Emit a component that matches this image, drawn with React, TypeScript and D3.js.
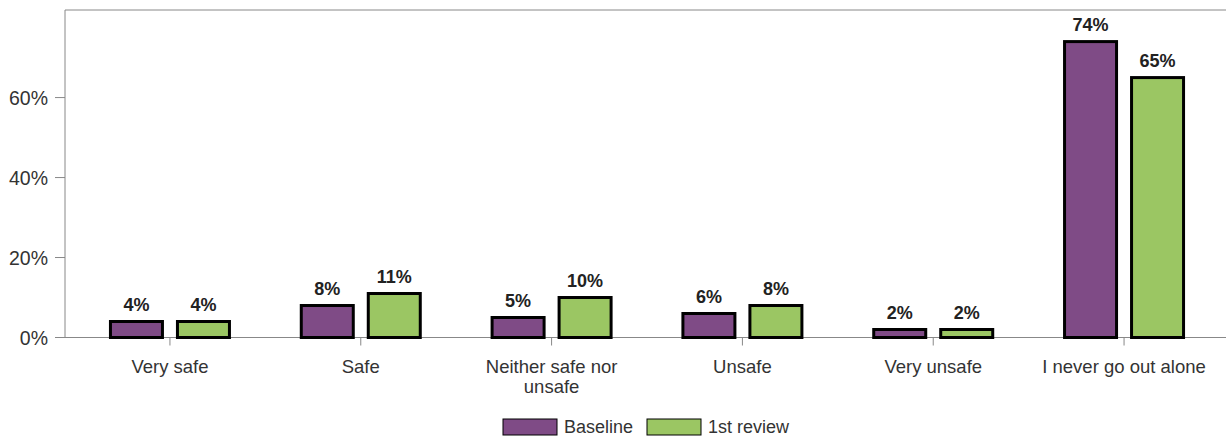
import React from "react";
import * as d3 from "d3";

const categories = ["Very safe", "Safe", "Neither safe nor unsafe", "Unsafe", "Very unsafe", "I never go out alone"];
const categoryLines = [["Very safe"], ["Safe"], ["Neither safe nor", "unsafe"], ["Unsafe"], ["Very unsafe"], ["I never go out alone"]];
const seriesNames = ["Baseline", "1st review"];
const baseline = [4, 8, 5, 6, 2, 74];
const review1 = [4, 11, 10, 8, 2, 65];
const yTicks = [0, 20, 40, 60];
const colors = ["#7f4b86", "#9bc663"];

export default function App() {
  const W = 1226, H = 437;
  const left = 65, top = 10, right = 1229, bottom = 337.5;
  const x = d3.scaleBand().domain(categories).range([left, right]).paddingOuter(0.05).paddingInner(0);
  const y = d3.scaleLinear().domain([0, 81.9]).range([bottom, top]);
  const barW = 52, gap = 15;
  const font = "'Liberation Sans', Arial, sans-serif";
  const series = [baseline, review1];
  return (
    <svg width={W} height={H} style={{ position: "absolute", left: 0, top: 0 }}>
      <rect x={0} y={0} width={W} height={H} fill="#fff" />
      <line x1={left} y1={top} x2={right} y2={top} stroke="#888" strokeWidth={1} />
      <line x1={left} y1={top} x2={left} y2={bottom} stroke="#888" strokeWidth={1} />
      <line x1={right} y1={top} x2={right} y2={bottom} stroke="#888" strokeWidth={1} />
      <line x1={left} y1={bottom} x2={right} y2={bottom} stroke="#888" strokeWidth={1} />
      {yTicks.map((t) => (
        <g key={t}>
          <line x1={left - 10} x2={left} y1={y(t)} y2={y(t)} stroke="#888" />
          <text x={48} y={y(t)} dy="0.36em" textAnchor="end" fontSize={19.5} fill="#333" fontFamily={font}>{t}%</text>
        </g>
      ))}
      {categories.map((c, i) => {
        const cx = x(c)! + x.bandwidth() / 2;
        return (
          <g key={c}>
            <line x1={cx} x2={cx} y1={bottom} y2={bottom + 8} stroke="#888" />
            {categoryLines[i].map((ln, j) => (
              <text key={j} x={cx} y={373 + j * 20} textAnchor="middle" fontSize={18.5} fill="#333" fontFamily={font}>{ln}</text>
            ))}
            {series.map((s, k) => {
              const bx = k === 0 ? cx - gap / 2 - barW : cx + gap / 2;
              const v = s[i];
              return (
                <g key={k}>
                  <rect x={bx} y={y(v)} width={barW} height={bottom - y(v)} fill={colors[k]} stroke="#000" strokeWidth={3} />
                  <text x={bx + barW / 2} y={y(v) - 11} textAnchor="middle" fontSize={18} fontWeight="bold" fill="#222" fontFamily={font}>{v}%</text>
                </g>
              );
            })}
          </g>
        );
      })}
      {seriesNames.map((n, k) => {
        const lx = k === 0 ? 503 : 647;
        return (
          <g key={n}>
            <rect x={lx} y={419} width={54} height={16} fill={colors[k]} stroke="#000" strokeWidth={1} />
            <text x={lx + 61} y={433} fontSize={18} fill="#333" fontFamily={font}>{n}</text>
          </g>
        );
      })}
    </svg>
  );
}
